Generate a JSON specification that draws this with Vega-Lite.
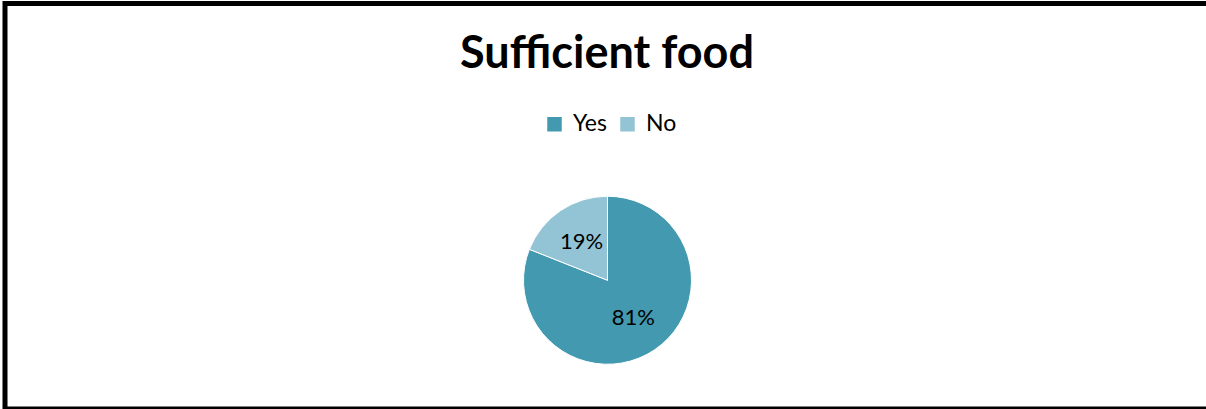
{
  "$schema": "https://vega.github.io/schema/vega-lite/v6.json",
  "width": 1201,
  "height": 405.5,
  "autosize": {"type": "none"},
  "padding": {"left": 5, "top": 3.5, "right": 0, "bottom": 0},
  "background": "white",
  "view": {"stroke": "#000", "strokeWidth": 5, "fill": "white", "strokeDash": [1203.5, 403, 1610]},
  "title": {
    "text": "Sufficient food",
    "font": "Lato",
    "fontSize": 45,
    "fontWeight": "bold",
    "color": "#000",
    "anchor": "middle",
    "frame": "group",
    "baseline": "alphabetic",
    "offset": -109,
    "dx": 1.5
  },
  "data": {
    "values": [
      {"answer": "Yes", "percent": 81, "label": "81%"},
      {"answer": "No", "percent": 19, "label": "19%"}
    ]
  },
  "encoding": {
    "theta": {"field": "percent", "type": "quantitative", "stack": true},
    "order": {"field": "answer", "sort": "descending"},
    "color": {
      "field": "answer",
      "type": "nominal",
      "scale": {"domain": ["Yes", "No"], "range": ["#4299B0", "#93C4D5"]},
      "legend": {
        "orient": "none",
        "legendX": 538,
        "legendY": 109,
        "direction": "horizontal",
        "title": null,
        "symbolType": "square",
        "symbolSize": 210,
        "symbolStrokeWidth": 0,
        "symbolOpacity": 1,
        "labelFont": "Lato",
        "labelFontSize": 23,
        "labelColor": "#000",
        "labelOffset": 7,
        "columnPadding": 9
      }
    }
  },
  "layer": [
    {"mark": {"type": "arc", "radius": 84, "stroke": "#fff", "strokeWidth": 1, "xOffset": 2, "yOffset": 74}},
    {
      "mark": {"type": "text", "radius": 46, "font": "Lato", "fontSize": 22, "xOffset": 2, "yOffset": 74},
      "encoding": {"text": {"field": "label"}, "color": {"value": "#000"}}
    }
  ]
}
